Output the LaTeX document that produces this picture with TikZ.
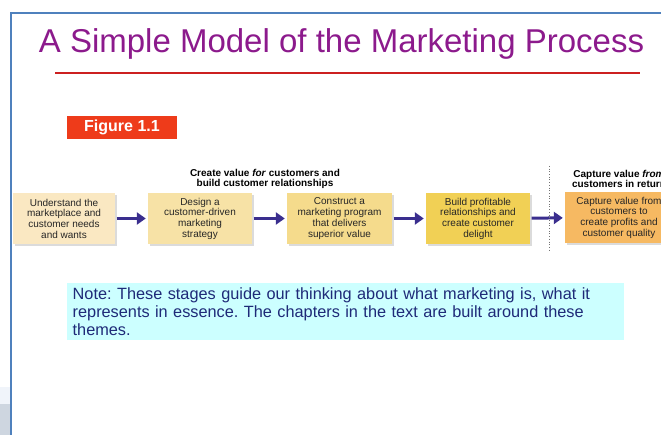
\documentclass[tikz,border=0pt]{standalone}
\usepackage{fontspec}
\setmainfont{Liberation Sans}
\definecolor{slideblue}{HTML}{4F81BD}
\definecolor{titlepurple}{HTML}{8C1A8C}
\definecolor{rulered}{HTML}{CC2020}
\definecolor{figred}{HTML}{EE3B1A}
\definecolor{flowblue}{HTML}{3A2E8E}
\definecolor{notecyan}{HTML}{CCFFFF}
\definecolor{notenavy}{HTML}{1E2A78}
\definecolor{stepone}{HTML}{FAE8C2}
\definecolor{steptwo}{HTML}{F7E2A6}
\definecolor{stepthree}{HTML}{F5DB8C}
\definecolor{stepfour}{HTML}{F1D055}
\definecolor{stepfive}{HTML}{F6B962}
\definecolor{stripmist}{HTML}{F0F4FA}
\definecolor{stripgray}{HTML}{CED6E0}
\usepackage{tikz}
\usetikzlibrary{arrows.meta, positioning, shadows}
\frenchspacing

\begin{document}
\begin{tikzpicture}[
        x=1pt, y=-1pt,
        stagebox/.style={
          rectangle, align=center, inner sep=2pt,
          minimum height=51pt, text=black!85,
          font=\fontsize{10}{10.7}\selectfont,
          drop shadow={shadow xshift=2pt, shadow yshift=-2.5pt,
            fill=black!35, opacity=.4}},
        header/.style={
          align=center, inner sep=0pt,
          font=\bfseries\fontsize{10}{10.8}\selectfont},
        flow/.style={
          -{Triangle[length=9pt, width=12pt]}, line width=3pt,
          flowblue, shorten <=1.5pt, shorten >=2pt}
      ]
        \useasboundingbox (0,0) rectangle (661,435);
        \clip (0,0) rectangle (661,435);
        % window strip at the far left
        \fill[stripmist] (0,387) rectangle (10,404);
        \fill[stripgray] (0,404) rectangle (10,435);
        % slide frame
        \draw[slideblue, line width=2.5pt] (11,436) -- (11,13) -- (662,13);

        % title and rule
        \node[titlepurple, font=\fontsize{33}{36}\selectfont, anchor=base]
          (title) at (341.5,53) {A Simple Model of the Marketing Process};
        \draw[rulered, line width=1.4pt] (55,73) -- (640,73);

        \node[fill=figred, text=white, font=\bfseries\fontsize{16}{17}\selectfont,
          minimum width=110pt, minimum height=23pt, inner sep=0pt]
          (figlabel) at (122,127.5) {Figure 1.1};

        % the five stages
        \node[stagebox, fill=stepone, minimum width=102pt] (understand)
          at (64,218.5) {Understand the\\marketplace and\\customer needs\\and wants};
        \node[stagebox, fill=steptwo, minimum width=104pt] (design)
          at (200,218.5) {Design a\\customer-driven\\marketing\\strategy};
        \node[stagebox, fill=stepthree, minimum width=105pt] (construct)
          at (339.5,218.5) {Construct a\\marketing program\\that delivers\\superior value};
        \node[stagebox, fill=stepfour, minimum width=104pt] (build)
          at (478,218.5) {Build profitable\\relationships and\\create customer\\delight};
        \node[stagebox, fill=stepfive, minimum width=108pt] (capture)
          at (619,217.5) {Capture value from\\customers to\\create profits and\\customer quality};

        \draw[flow] (understand) -- (design);
        \draw[flow] (design) -- (construct);
        \draw[flow] (construct) -- (build);
        \draw[flow] (build) -- (capture);

        % headers over the two groups
        \node[header] (hdrcreate) at (265,179)
          {Create value \textit{for} customers and\\build customer relationships};
        \node[header] (hdrcapture) at (619,179)
          {Capture value \textit{from}\\customers in return};
        \coordinate (divtop) at (549,166);
        \coordinate (divbot) at (549,250);
        \draw[black!55, dotted, line width=.7pt] (divtop) -- (divbot);

        % note under the figure
        \node[fill=notecyan, text=notenavy, anchor=north west,
          minimum width=557pt, minimum height=57pt,
          text width=546pt, inner xsep=5.5pt, inner ysep=4pt,
          font=\fontsize{16.3}{17.7}\selectfont, align=left]
          (note) at (67,283)
          {Note: These stages guide our thinking about what marketing is, what it\\
           represents in essence. The chapters in the text are built around these\\
           themes.};
      \end{tikzpicture}
\end{document}
